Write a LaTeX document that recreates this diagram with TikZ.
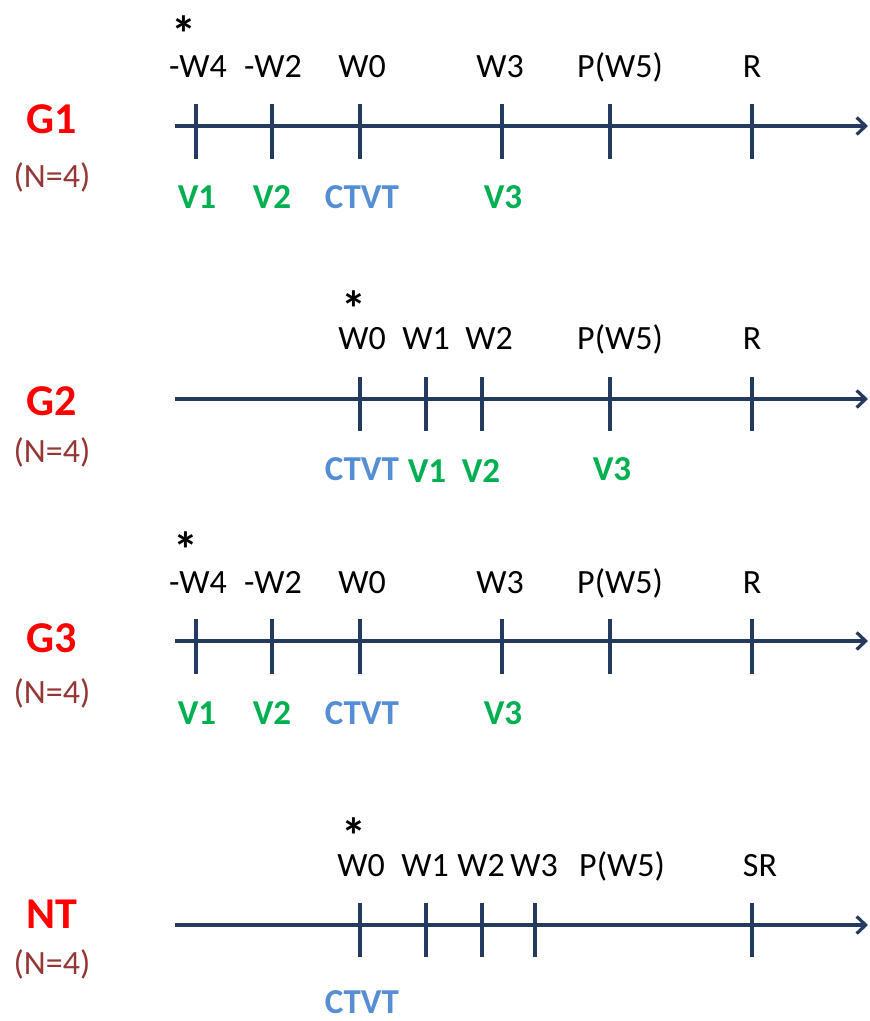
\documentclass[tikz,border=0pt]{standalone}
\usepackage{fontspec}
\setmainfont{Carlito}
\usetikzlibrary{arrows.meta}
\definecolor{axisblue}{RGB}{36,58,94}
\definecolor{grpred}{RGB}{255,0,0}
\definecolor{nbrown}{RGB}{149,55,53}
\definecolor{vgreen}{RGB}{0,176,80}
\definecolor{ctblue}{RGB}{85,142,213}
\newcommand{\starmark}{\raisebox{-29.5pt}{\smash{*}}}
\tikzset{
  axisline/.style={draw=axisblue, line width=3.2pt, -{Straight Barb[length=9pt,width=17pt,line width=3.2pt]}},
  tickline/.style={draw=axisblue, line width=3.2pt},
  toplbl/.style={anchor=base, inner sep=0pt, font=\fontsize{34}{38}\selectfont, text=black},
  botlbl/.style={anchor=base, inner sep=0pt, font=\fontsize{35}{38}\selectfont\bfseries},
  vlbl/.style={botlbl, text=vgreen},
  clbl/.style={botlbl, text=ctblue},
  grp/.style={anchor=base, inner sep=0pt, font=\fontsize{44}{48}\selectfont\bfseries, text=grpred},
  nlbl/.style={anchor=base, inner sep=0pt, font=\fontsize{34}{38}\selectfont, text=nbrown},
  star/.style={anchor=center, inner sep=0pt, text height=8pt, text depth=8pt,
    font=\fontsize{50}{54}\selectfont\bfseries, text=black}
}
\begin{document}
\begin{tikzpicture}[x=1pt,y=-1pt]
\useasboundingbox[fill=white] (0,0) rectangle (870,1021);

% ---------------- G1 ----------------
\node[grp] (g1) at (52,133) {G1};
\node[nlbl] (g1n) at (52,187) {(N=4)};
\coordinate (g1s) at (175,126);
\coordinate (g1e) at (868,126);
\draw[axisline] (g1s) -- (g1e);
\foreach \x/\n in {196/a,272/b,360/c,502/d,610/e,752/f}{
  \coordinate (g1t\n) at (\x,104);
  \coordinate (g1b\n) at (\x,159);
  \draw[tickline] (g1t\n) -- (g1b\n);
}
\node[star] (g1st) at (184,22) {\starmark};
\node[toplbl] (g1l1) at (198,77) {-W4};
\node[toplbl] (g1l2) at (273,77) {-W2};
\node[toplbl] (g1l3) at (362,77) {W0};
\node[toplbl] (g1l4) at (500,77) {W3};
\node[toplbl] (g1l5) at (620,77) {P(W5)};
\node[toplbl] (g1l6) at (752,77) {R};
\node[vlbl] (g1v1) at (197,208) {V1};
\node[vlbl] (g1v2) at (272,208) {V2};
\node[clbl] (g1ct) at (362,208) {CTVT};
\node[vlbl] (g1v3) at (503,208) {V3};

% ---------------- G2 ----------------
\node[grp] (g2) at (52,415) {G2};
\node[nlbl] (g2n) at (52,462) {(N=4)};
\coordinate (g2s) at (175,399);
\coordinate (g2e) at (868,399);
\draw[axisline] (g2s) -- (g2e);
\foreach \x/\n in {360/a,426/b,482/c,610/d,752/e}{
  \coordinate (g2t\n) at (\x,377);
  \coordinate (g2b\n) at (\x,431);
  \draw[tickline] (g2t\n) -- (g2b\n);
}
\node[star] (g2st) at (354,297) {\starmark};
\node[toplbl] (g2l1) at (362,349) {W0};
\node[toplbl] (g2l2) at (426,349) {W1};
\node[toplbl] (g2l3) at (489,349) {W2};
\node[toplbl] (g2l4) at (620,349) {P(W5)};
\node[toplbl] (g2l5) at (752,349) {R};
\node[clbl] (g2ct) at (362,480) {CTVT};
\node[vlbl] (g2v1) at (427,482) {V1};
\node[vlbl] (g2v2) at (481,482) {V2};
\node[vlbl] (g2v3) at (612,480) {V3};

% ---------------- G3 ----------------
\node[grp] (g3) at (52,652) {G3};
\node[nlbl] (g3n) at (52,703) {(N=4)};
\coordinate (g3s) at (175,641);
\coordinate (g3e) at (868,641);
\draw[axisline] (g3s) -- (g3e);
\foreach \x/\n in {196/a,272/b,360/c,502/d,610/e,752/f}{
  \coordinate (g3t\n) at (\x,619);
  \coordinate (g3b\n) at (\x,674);
  \draw[tickline] (g3t\n) -- (g3b\n);
}
\node[star] (g3st) at (186,538) {\starmark};
\node[toplbl] (g3l1) at (198,593) {-W4};
\node[toplbl] (g3l2) at (273,593) {-W2};
\node[toplbl] (g3l3) at (362,593) {W0};
\node[toplbl] (g3l4) at (500,593) {W3};
\node[toplbl] (g3l5) at (620,593) {P(W5)};
\node[toplbl] (g3l6) at (752,593) {R};
\node[vlbl] (g3v1) at (197,724) {V1};
\node[vlbl] (g3v2) at (272,724) {V2};
\node[clbl] (g3ct) at (362,724) {CTVT};
\node[vlbl] (g3v3) at (503,724) {V3};

% ---------------- NT ----------------
\node[grp] (nt) at (52,928) {NT};
\node[nlbl] (ntn) at (52,974) {(N=4)};
\coordinate (nts) at (175,925);
\coordinate (nte) at (868,925);
\draw[axisline] (nts) -- (nte);
\foreach \x/\n in {360/a,426/b,482/c,535/d,752/e}{
  \coordinate (ntt\n) at (\x,903);
  \coordinate (ntb\n) at (\x,957);
  \draw[tickline] (ntt\n) -- (ntb\n);
}
\node[star] (ntst) at (354,824) {\starmark};
\node[toplbl] (ntl1) at (361,876) {W0};
\node[toplbl] (ntl2) at (425,876) {W1};
\node[toplbl] (ntl3) at (481,876) {W2};
\node[toplbl] (ntl4) at (534,876) {W3};
\node[toplbl] (ntl5) at (622,876) {P(W5)};
\node[toplbl] (ntl6) at (760,876) {SR};
\node[clbl] (ntct) at (362,1013) {CTVT};
\end{tikzpicture}
\end{document}
